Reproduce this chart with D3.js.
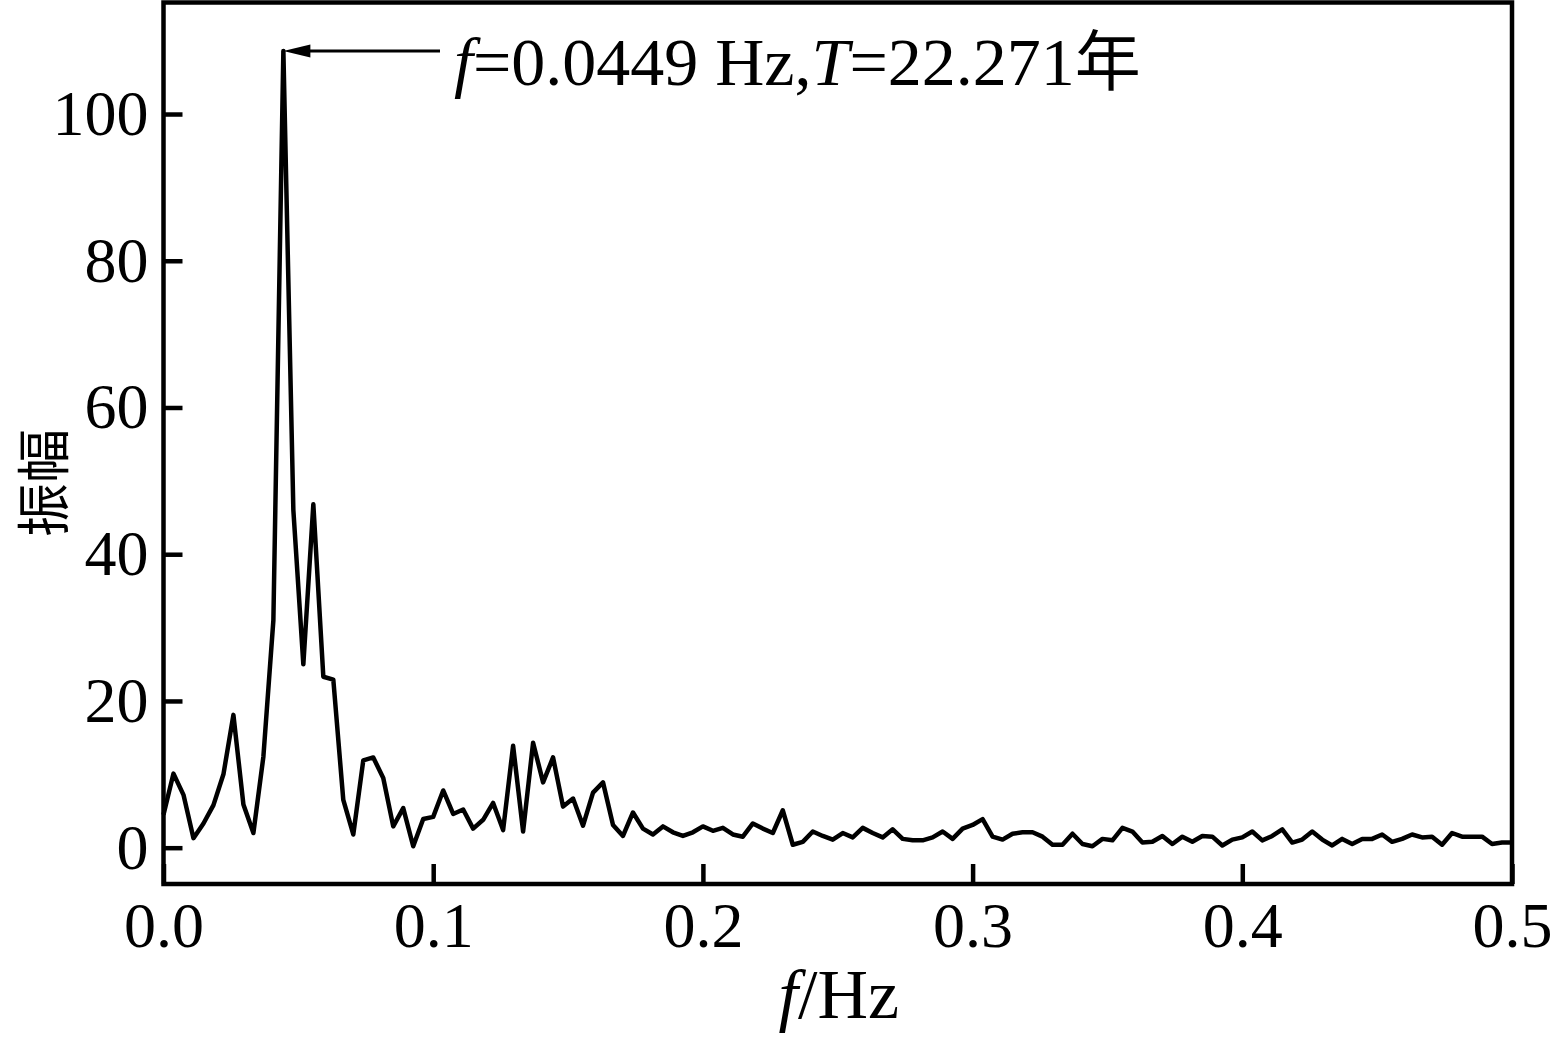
<!DOCTYPE html>
<html>
<head>
<meta charset="utf-8">
<script src="https://cdn.jsdelivr.net/npm/d3@7"></script>
<style>
  html, body { margin: 0; padding: 0; background: #fff; }
  svg { display: block; }
  text { font-family: "Liberation Serif", "Times New Roman", serif; fill: #000; }
</style>
</head>
<body>
<svg id="chart" width="1555" height="1040"></svg>
<script>
// ---- data ----
const freqStep = 1 / 270;            // frequency resolution (Hz)
const amplitudes = [
  4.5, 10.1, 7.2, 1.3, 3.3, 5.8, 10.0, 18.1, 5.9, 2.0,
  12.4, 31.0, 108.6, 46.0, 25.0, 46.8, 23.3, 22.9, 6.5, 1.8,
  11.9, 12.3, 9.5, 2.9, 5.4, 0.2, 3.9, 4.2, 7.8, 4.6,
  5.2, 2.6, 3.8, 6.1, 2.4, 13.9, 2.2, 14.3, 8.9, 12.3,
  5.6, 6.7, 3.0, 7.5, 8.9, 3.1, 1.6, 4.8, 2.6, 1.8,
  2.9, 2.1, 1.6, 2.1, 2.9, 2.3, 2.7, 1.8, 1.5, 3.3,
  2.6, 2.0, 5.1, 0.4, 0.8, 2.2, 1.6, 1.1, 2.0, 1.4,
  2.7, 2.0, 1.4, 2.5, 1.2, 1.0, 1.0, 1.4, 2.2, 1.2,
  2.6, 3.1, 3.9, 1.5, 1.1, 1.9, 2.1, 2.1, 1.5, 0.4,
  0.4, 1.9, 0.5, 0.2, 1.2, 1.0, 2.7, 2.2, 0.7, 0.8,
  1.6, 0.5, 1.5, 0.8, 1.6, 1.5, 0.3, 1.1, 1.4, 2.2,
  1.0, 1.6, 2.5, 0.7, 1.1, 2.2, 1.1, 0.3, 1.2, 0.5,
  1.2, 1.2, 1.8, 0.8, 1.2, 1.8, 1.4, 1.5, 0.4, 2.0,
  1.5, 1.5, 1.5, 0.5, 0.7, 0.7
];
const xTicks = [0, 0.1, 0.2, 0.3, 0.4, 0.5];
const yTicks = [0, 20, 40, 60, 80, 100];
const xDomain = [0, 0.5];
const yDomain = [-4.95, 115.2];
const peakLabelF = "0.0449";
const peakLabelT = "22.271";
const xTitleItalic = "f";
const xTitleRest = "/Hz";
const yTitle = "振幅";

const points = amplitudes.map((a, i) => ({ f: i * freqStep, a }));

// ---- layout ----
const svg = d3.select("#chart");
const L = 163.5, R = 1512, T = 2.5, B = 884;
const x = d3.scaleLinear().domain(xDomain).range([L, R]);
const y = d3.scaleLinear().domain(yDomain).range([B, T]);
const tickFont = 64;

// axes (ticks pointing inward)
const yAxis = d3.axisLeft(y).tickValues(yTicks).tickSize(-19).tickPadding(15).tickFormat(d3.format("d"));
const xAxis = d3.axisBottom(x).tickValues(xTicks).tickSize(-20).tickPadding(18).tickFormat(d3.format(".1f"));

const gy = svg.append("g").attr("transform", `translate(${L},0)`).call(yAxis);
const gx = svg.append("g").attr("transform", `translate(0,${B})`).call(xAxis);
[gx, gy].forEach(g => {
  g.select(".domain").remove();
  g.selectAll(".tick line").attr("stroke", "#000").attr("stroke-width", 4.5);
  g.selectAll(".tick text")
    .attr("fill", "#000")
    .style("font-family", "'Liberation Serif', 'Times New Roman', serif")
    .style("font-size", tickFont + "px");
});

// frame
svg.append("rect")
  .attr("x", L).attr("y", T)
  .attr("width", R - L).attr("height", B - T)
  .attr("fill", "none").attr("stroke", "#000").attr("stroke-width", 4.5);

// spectrum line
const line = d3.line().x(d => x(d.f)).y(d => y(d.a));
svg.append("path")
  .datum(points)
  .attr("d", line)
  .attr("fill", "none")
  .attr("stroke", "#000")
  .attr("stroke-width", 4.5)
  .attr("stroke-linejoin", "round");

// annotation arrow at the peak
const peak = points.reduce((m, d) => d.a > m.a ? d : m, points[0]);
const tipX = x(peak.f), tipY = y(peak.a);
const headLen = 27, headHalf = 6.5, lineEnd = 440;
svg.append("line")
  .attr("x1", tipX + headLen - 2).attr("y1", tipY)
  .attr("x2", lineEnd).attr("y2", tipY)
  .attr("stroke", "#000").attr("stroke-width", 3);
svg.append("path")
  .attr("d", `M${tipX},${tipY} L${tipX + headLen},${tipY - headHalf} L${tipX + headLen},${tipY + headHalf} Z`)
  .attr("fill", "#000");

const ann = svg.append("text")
  .attr("x", 454).attr("y", 85)
  .style("font-size", "68px")
  .style("font-family", "'Liberation Serif', 'Noto Sans CJK SC', serif");
ann.append("tspan").style("font-style", "italic").text("f");
ann.append("tspan").text(`=${peakLabelF} Hz,`);
ann.append("tspan").style("font-style", "italic").text("T");
ann.append("tspan").text(`=${peakLabelT}`);
ann.append("tspan").style("font-family", "'Noto Sans CJK SC', sans-serif").style("font-size", "66px").text("年");

// x title
const xt = svg.append("text")
  .attr("x", (L + R) / 2 + 1).attr("y", 1018)
  .attr("text-anchor", "middle")
  .style("font-size", "70px");
xt.append("tspan").style("font-style", "italic").text(xTitleItalic);
xt.append("tspan").text(xTitleRest);

// y title
svg.append("text")
  .attr("transform", `translate(40,483) rotate(-90)`)
  .attr("text-anchor", "middle")
  .attr("dominant-baseline", "central")
  .style("font-family", "'Noto Sans CJK SC', sans-serif")
  .style("font-size", "54px")
  .text(yTitle);
</script>
</body>
</html>
